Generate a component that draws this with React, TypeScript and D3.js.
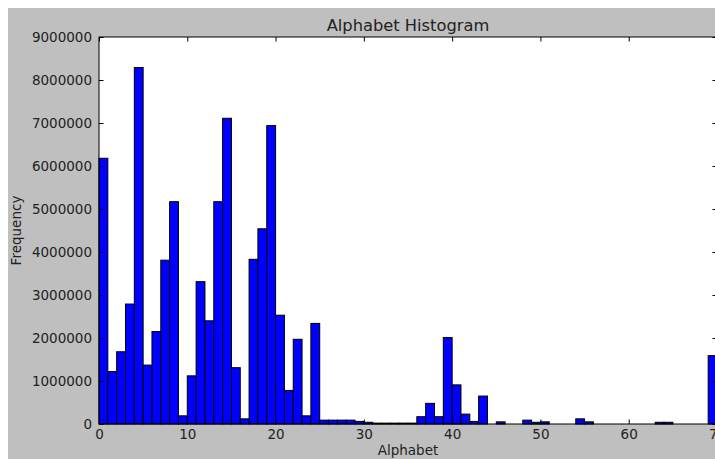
import { useEffect, useRef } from "react";
import * as d3 from "d3";

// frequency per alphabet bin (bin i covers [i, i+1))
const freqs = [
  6180000, 1220000, 1680000, 2790000, 8290000, 1370000, 2150000, 3810000, 5170000, 190000,
  1120000, 3310000, 2400000, 5170000, 7110000, 1310000, 120000, 3830000, 4540000, 6940000,
  2530000, 780000, 1970000, 190000, 2340000, 90000, 90000, 90000, 90000, 60000,
  40000, 20000, 20000, 20000, 20000, 20000, 170000, 480000, 170000, 2010000,
  910000, 230000, 60000, 650000, 0, 50000, 0, 0, 90000, 40000,
  50000, 0, 0, 0, 120000, 50000, 0, 0, 0, 0,
  0, 0, 0, 40000, 40000, 0, 0, 0, 0, 1590000,
];
const xTicks = [0, 10, 20, 30, 40, 50, 60, 70];
const yTicks = [0, 1000000, 2000000, 3000000, 4000000, 5000000, 6000000, 7000000, 8000000, 9000000];

const App = () => {
  const svgRef = useRef<SVGSVGElement | null>(null);

  useEffect(() => {
    drawChart();
  }, []);

  const drawChart = () => {
    const w = 707;
    const h = 451;
    const left = 91;
    const right = 709;
    const top = 29;
    const bottom = 416;
    const font = "DejaVu Sans, sans-serif";

    const svg = d3.select(svgRef.current).attr("width", w).attr("height", h);
    svg.selectAll("*").remove();

    svg.append("rect").attr("width", w).attr("height", h).attr("fill", "#bfbfbf");

    const xScale = d3.scaleLinear().domain([0, 70]).range([left, right]);
    const yScale = d3.scaleLinear().domain([0, 9000000]).range([bottom, top]);

    svg
      .append("rect")
      .attr("x", left)
      .attr("y", top)
      .attr("width", right - left)
      .attr("height", bottom - top)
      .attr("fill", "white");

    // bars
    svg
      .append("g")
      .selectAll("rect")
      .data(freqs)
      .join("rect")
      .attr("x", (d, i) => xScale(i))
      .attr("width", (d, i) => xScale(i + 1) - xScale(i))
      .attr("y", (d) => yScale(d))
      .attr("height", (d) => yScale(0) - yScale(d))
      .attr("fill", "#0000ff")
      .attr("stroke", "black")
      .attr("stroke-width", 1);

    // frame
    svg
      .append("rect")
      .attr("x", left)
      .attr("y", top)
      .attr("width", right - left)
      .attr("height", bottom - top)
      .attr("fill", "none")
      .attr("stroke", "black")
      .attr("stroke-width", 1);

    const tick = 4.5;
    const xAxis = d3
      .axisBottom(xScale)
      .tickValues(xTicks)
      .tickSizeInner(-tick)
      .tickSizeOuter(0)
      .tickPadding(5)
      .tickFormat((d: any) => `${d}`);
    const xTop = d3.axisTop(xScale).tickValues(xTicks).tickSizeInner(-tick).tickSizeOuter(0).tickFormat(() => "");
    const yAxis = d3
      .axisLeft(yScale)
      .tickValues(yTicks)
      .tickSizeInner(-tick)
      .tickSizeOuter(0)
      .tickPadding(7)
      .tickFormat(d3.format("d") as any);
    const yRight = d3.axisRight(yScale).tickValues(yTicks).tickSizeInner(-tick).tickSizeOuter(0).tickFormat(() => "");

    const gs = [
      svg.append("g").attr("transform", `translate(0, ${bottom})`).call(xAxis),
      svg.append("g").attr("transform", `translate(0, ${top})`).call(xTop),
      svg.append("g").attr("transform", `translate(${left}, 0)`).call(yAxis),
      svg.append("g").attr("transform", `translate(${right}, 0)`).call(yRight),
    ];
    gs.forEach((g) => {
      g.select(".domain").remove();
      g.selectAll("line").attr("stroke", "black");
      g.selectAll("text").attr("fill", "#222").style("font-family", font).style("font-size", "13.5px");
      g.attr("font-family", null).attr("font-size", null);
    });

    // title and labels
    svg
      .append("text")
      .attr("x", (left + right) / 2)
      .attr("y", 23)
      .attr("text-anchor", "middle")
      .style("font-family", font)
      .style("font-size", "16.3px")
      .attr("fill", "#222")
      .text("Alphabet Histogram");
    svg
      .append("text")
      .attr("x", (left + right) / 2)
      .attr("y", 447)
      .attr("text-anchor", "middle")
      .style("font-family", font)
      .style("font-size", "13.5px")
      .attr("fill", "#222")
      .text("Alphabet");
    svg
      .append("text")
      .attr("transform", `translate(13, ${(top + bottom) / 2}) rotate(-90)`)
      .attr("text-anchor", "middle")
      .style("font-family", font)
      .style("font-size", "13.5px")
      .attr("fill", "#222")
      .text("Frequency");
  };

  return (
    <div>
      <svg ref={svgRef} style={{ display: "block", position: "fixed", left: 8, top: 8 }}></svg>
    </div>
  );
};

export default App;
